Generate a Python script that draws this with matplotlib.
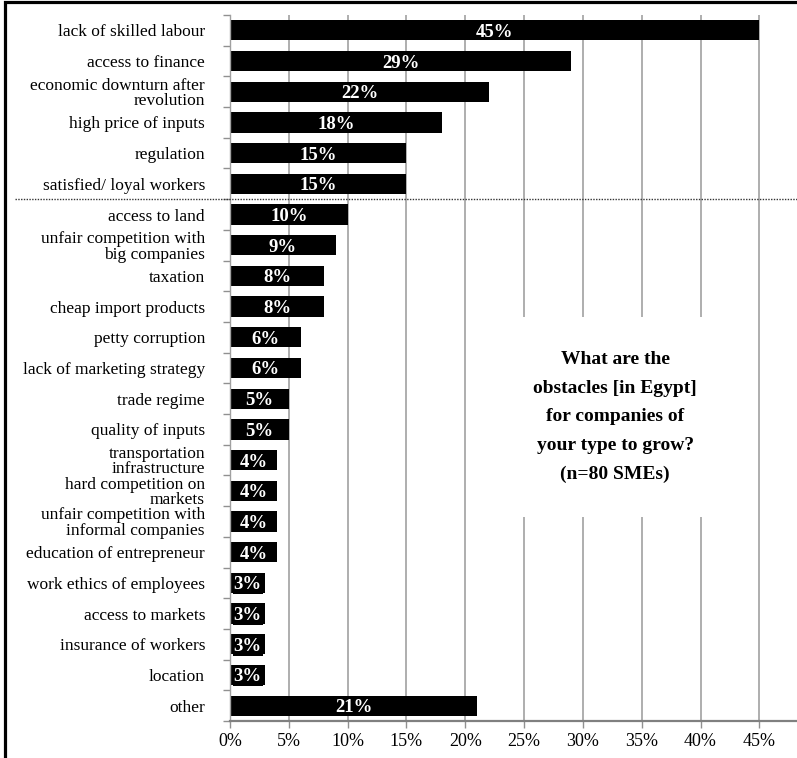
import matplotlib
matplotlib.use("Agg")
import matplotlib.pyplot as plt
import matplotlib.transforms as mtransforms
from matplotlib.lines import Line2D
from matplotlib.patches import Rectangle
from matplotlib.ticker import FixedLocator, PercentFormatter

# obstacles to growth, share of SMEs (n=80)
categories = [
    "lack of skilled labour",
    "access to finance",
    "economic downturn after\nrevolution",
    "high price of inputs",
    "regulation",
    "satisfied/ loyal workers",
    "access to land",
    "unfair competition with\nbig companies",
    "taxation",
    "cheap import products",
    "petty corruption",
    "lack of marketing strategy",
    "trade regime",
    "quality of inputs",
    "transportation\ninfrastructure",
    "hard competition on\nmarkets",
    "unfair competition with\ninformal companies",
    "education of entrepreneur",
    "work ethics of employees",
    "access to markets",
    "insurance of workers",
    "location",
    "other",
]
shares = [45, 29, 22, 18, 15, 15, 10, 9, 8, 8, 6, 6, 5, 5, 4, 4, 4, 4, 3, 3, 3, 3, 21]
x_ticks = [0, 5, 10, 15, 20, 25, 30, 35, 40, 45]
n_top = 6  # items above the dotted separator
note = "What are the\nobstacles [in Egypt]\nfor companies of\nyour type to grow?\n(n=80 SMEs)"

plt.rcParams["font.family"] = ["Liberation Serif", "DejaVu Serif"]
plt.rcParams["font.size"] = 12.5

fig = plt.figure(figsize=(7.97, 7.58), dpi=100)
ax = fig.add_axes([230 / 797, 1 - 721 / 758, 1 - 230 / 797, (721 - 15) / 758])

ypos = list(range(len(categories)))
bars = ax.barh(ypos, shares, height=0.66, color="black", zorder=2)
for b, v in zip(bars, shares):
    # narrow bars: the label sits on a black box that runs past the bar end
    box = dict(boxstyle="square,pad=0.05", fc="black", ec="none") if v <= 3 else None
    ax.text(b.get_width() / 2, b.get_y() + b.get_height() / 2, f"{v}%",
            ha="center", va="center_baseline", color="white", fontweight="bold",
            fontsize=13.5, zorder=4, bbox=box)

ax.set_xlim(0, 48.2)
ax.set_ylim(len(categories) - 0.5, -0.5)
ax.set_xticks(x_ticks)
ax.xaxis.set_major_formatter(PercentFormatter(decimals=0))
ax.set_yticks(ypos)
ax.set_yticklabels(categories, linespacing=0.95)
ax.yaxis.set_minor_locator(FixedLocator([i - 0.5 for i in range(len(categories) + 1)]))
ax.tick_params(axis="y", which="major", length=0, pad=18)
ax.tick_params(axis="y", which="minor", length=5, color="#909090", width=1)
ax.tick_params(axis="x", length=5, color="#909090", width=1, labelsize=13, pad=4)

ax.set_axisbelow(True)
ax.grid(axis="x", color="#a8a8a8", lw=1.3)
for s in ["top", "right"]:
    ax.spines[s].set_visible(False)
ax.spines["left"].set_color("#a0a0a0")
ax.spines["left"].set_linewidth(1)
ax.spines["bottom"].set_color("#808080")
ax.spines["bottom"].set_linewidth(1.6)

# dotted separator between the top items and the rest
trans = mtransforms.blended_transform_factory(fig.transFigure, ax.transData)
fig.add_artist(Line2D([15 / 797, 1], [n_top - 0.5, n_top - 0.5], transform=trans,
                      color="#333333", lw=1, ls=(0, (1, 1))))

ax.text(32.75, 12.6, note, ha="center", va="center", fontweight="bold",
        fontsize=14, linespacing=1.9, zorder=3,
        bbox=dict(boxstyle="square,pad=1.75", fc="white", ec="none"))

# outer frame (left and top edges visible)
fig.add_artist(Rectangle((5 / 797, -0.1), 1.2, 1.0954 + 0.002, transform=fig.transFigure,
                         fill=False, ec="black", lw=2.3))

fig.savefig("out.png", dpi=100)
